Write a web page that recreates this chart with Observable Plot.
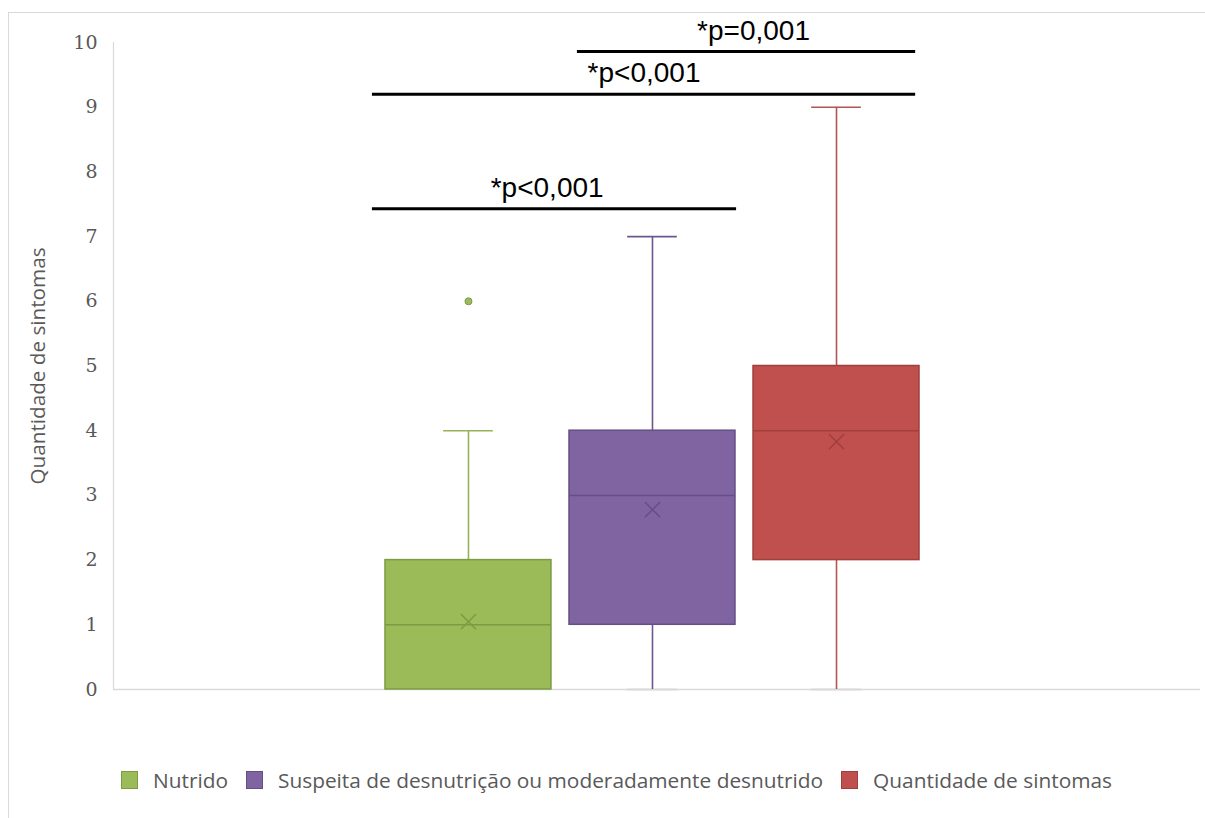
<!DOCTYPE html>
<html><head><meta charset="utf-8">
<script src="https://cdn.jsdelivr.net/npm/d3@7"></script>
<script src="https://cdn.jsdelivr.net/npm/@observablehq/plot@0.6"></script>
<style>
html,body{margin:0;padding:0;background:#fff;}
body{width:1205px;height:818px;position:relative;overflow:hidden;}
#frame{position:absolute;left:8px;top:12px;width:1210px;height:830px;border:1px solid #d9d9d9;box-sizing:border-box;}
#chart{position:absolute;left:0;top:0;}
#legend{position:absolute;top:767px;left:121px;height:26px;display:flex;align-items:center;font-family:"Open Sans",sans-serif;font-size:20.85px;color:#595959;white-space:nowrap;}
.item{display:flex;align-items:center;margin-right:18px;}
.sw{width:17px;height:18px;box-sizing:border-box;border:1.5px solid;margin-right:15px;}
</style></head>
<body>
<div id="frame"></div>
<div id="chart"></div>
<div id="legend"></div>
<script>
// ---- data ----
const groups = ["Nutrido", "Suspeita de desnutrição ou moderadamente desnutrido", "Quantidade de sintomas"];
const q1 = [0, 1, 2];
const medians = [1, 3, 4];
const q3 = [2, 4, 5];
const whiskerLow = [0, 0, 0];
const whiskerHigh = [4, 7, 9];
const means = [1.05, 2.78, 3.83];
const outlierGroups = ["Nutrido"];
const outlierValues = [6];
const yTicks = [0, 1, 2, 3, 4, 5, 6, 7, 8, 9, 10];
const bracketFrom = ["Nutrido", "Nutrido", "Suspeita de desnutrição ou moderadamente desnutrido"];
const bracketTo = ["Suspeita de desnutrição ou moderadamente desnutrido", "Quantidade de sintomas", "Quantidade de sintomas"];
const bracketY = [7.43, 9.2, 9.86];
const bracketLabels = ["*p<0,001", "*p<0,001", "*p=0,001"];

// ---- styles ----
const fills = ["#9BBB59", "#8064A2", "#C0504D"];
const darks = ["#7D9A44", "#644E86", "#A03F3C"];
const whiskerColors = ["#93B356", "#6B5690", "#B25553"];
const grey = "#d9d9d9";
const half = 0.451, cap = 0.135;
const leftPad = [0.522, 0.408, 0.45];
const rightPad = [0.45, 0.457, 0.43];
const labelShift = [-0.04, 0, 0.038];

const pos = g => groups.indexOf(g) + 1;
const stats = groups.map((g, i) => ({
  group: g, p: i + 1, q1: q1[i], med: medians[i], q3: q3[i],
  lo: whiskerLow[i], hi: whiskerHigh[i], mean: means[i],
  fill: fills[i], dark: darks[i], wc: whiskerColors[i]
}));
const outliers = outlierGroups.map((g, i) => ({p: pos(g), v: outlierValues[i], fill: fills[groups.indexOf(g)], dark: darks[groups.indexOf(g)]}));
const brackets = bracketFrom.map((f, i) => {
  const a = pos(f), b = pos(bracketTo[i]);
  const x1 = a - leftPad[a - 1], x2 = b + rightPad[b - 1];
  return {x1, x2, xm: (x1 + x2) / 2 + labelShift[i], y: bracketY[i], label: bracketLabels[i]};
});

const xDomain = [-0.929, 4.978];

const chart = Plot.plot({
  width: 1205, height: 720,
  marginTop: 42, marginBottom: 31, marginLeft: 113, marginRight: 5,
  style: {fontFamily: "'DejaVu Serif', serif", fontSize: "19px", color: "#595959", background: "transparent"},
  x: {domain: xDomain, axis: null},
  y: {domain: [0, 10], ticks: yTicks, tickSize: 0, tickPadding: 16, label: null, tickFormat: d => String(d)},
  color: {type: "identity"},
  marks: [
    Plot.ruleX([xDomain[0]], {y1: 0, y2: 10, stroke: grey, strokeWidth: 1.2}),
    Plot.ruleY([0], {stroke: grey, strokeWidth: 1.5}),
    // bottom caps (light)
    Plot.ruleY(stats.filter(d => d.lo < d.q1), {y: "lo", x1: d => d.p - cap, x2: d => d.p + cap, stroke: grey, strokeWidth: 2}),
    // whiskers
    Plot.ruleX(stats, {x: "p", y1: "q3", y2: "hi", stroke: "wc", strokeWidth: 1.6}),
    Plot.ruleX(stats.filter(d => d.lo < d.q1), {x: "p", y1: "lo", y2: "q1", stroke: "wc", strokeWidth: 1.6}),
    Plot.ruleY(stats, {y: "hi", x1: d => d.p - cap, x2: d => d.p + cap, stroke: "wc", strokeWidth: 1.6}),
    // boxes
    Plot.rect(stats, {x1: d => d.p - half, x2: d => d.p + half, y1: "q1", y2: "q3", fill: "fill", stroke: "dark", strokeWidth: 1.5}),
    Plot.ruleY(stats, {y: "med", x1: d => d.p - half, x2: d => d.p + half, stroke: "dark", strokeWidth: 1.5}),
    Plot.dot(stats, {x: "p", y: "mean", symbol: "times", r: 7, stroke: "dark", strokeWidth: 1.5}),
    Plot.dot(outliers, {x: "p", y: "v", r: 3.5, fill: "fill", stroke: "dark", strokeWidth: 1}),
    // significance brackets
    Plot.ruleY(brackets, {y: "y", x1: "x1", x2: "x2", stroke: "black", strokeWidth: 3}),
    Plot.text(brackets, {x: "xm", y: "y", text: "label", lineAnchor: "bottom", dy: -12, fill: "black", fontFamily: "'Liberation Sans', Arial, sans-serif", fontSize: 28}),
    // axis title
    Plot.text(["Quantidade de sintomas"], {frameAnchor: "left", textAnchor: "middle", dx: -75, rotate: -90, fill: "#595959", fontFamily: "'Open Sans', sans-serif", fontSize: 20.7})
  ]
});
document.getElementById("chart").appendChild(chart);

const legend = document.getElementById("legend");
groups.forEach((g, i) => {
  const it = document.createElement("div");
  it.className = "item";
  const sw = document.createElement("span");
  sw.className = "sw";
  sw.style.background = fills[i];
  sw.style.borderColor = darks[i];
  const t = document.createElement("span");
  t.textContent = g;
  it.appendChild(sw); it.appendChild(t);
  legend.appendChild(it);
});
</script>
</body></html>
